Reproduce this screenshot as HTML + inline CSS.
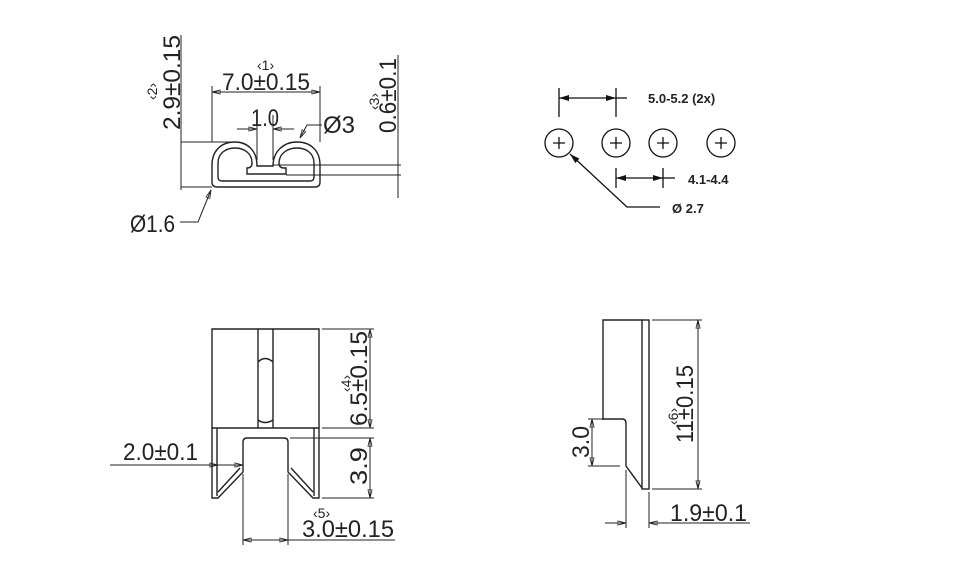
<!DOCTYPE html>
<html><head><meta charset="utf-8"><style>
html,body{margin:0;padding:0;background:#fff;}
svg{display:block;}
text{font-family:"Liberation Sans",sans-serif;fill:#222;}
.d{font-size:24px;}
.s{font-size:14px;}
.b{font-size:13px;font-weight:bold;}
</style></head><body>
<svg width="980" height="576" viewBox="0 0 980 576" xmlns="http://www.w3.org/2000/svg">
<defs>
<marker id="a" viewBox="0 0 10 6" refX="10" refY="3" markerWidth="9" markerHeight="5" orient="auto-start-reverse" markerUnits="userSpaceOnUse"><path d="M0,0.5 L10,3 L0,5.5 Z" fill="none" stroke="#222" stroke-width="1"/></marker>
<marker id="f" viewBox="0 0 10 6" refX="10" refY="3" markerWidth="11" markerHeight="6" orient="auto-start-reverse" markerUnits="userSpaceOnUse"><path d="M0,0 L10,3 L0,6 Z" fill="#111"/></marker>
</defs>
<g fill="none" stroke="#222" stroke-width="1.4">
<path d="M257,166 C257,150 247,142 235,142 C220,142 212,152 212,165 L212,182 Q212,187 217,187 L315,187 Q320,187 320,182 L320,165 C320,151 311,142 297,142 C284,142 273,151 273,166 Z"/>
<path d="M252,163 C252,154 245,148 235,148 C225,148 218,154 218,163 L218,177 Q218,181 222,181 L310,181 Q314,181 314,177 L314,163 C314,154 307,148 297,148 C287,148 279,154 279,163 Q279,168 284,168 L286,168 L286,174 L247,174 L247,168 Q252,168 252,163 Z"/>
</g>
<g fill="none" stroke="#222" stroke-width="1">
<line x1="212" y1="86" x2="212" y2="142"/><line x1="320" y1="86" x2="320" y2="142"/>
<line x1="212" y1="92" x2="320" y2="92" marker-start="url(#a)" marker-end="url(#a)"/>
<line x1="257" y1="115" x2="257" y2="160"/><line x1="273" y1="115" x2="273" y2="160"/>
<line x1="237" y1="129" x2="257" y2="129" marker-end="url(#a)"/><line x1="294" y1="129" x2="273" y2="129" marker-end="url(#a)"/>
<polyline points="322,125 307,125 300,138" marker-end="url(#a)"/>
<line x1="181" y1="35" x2="181" y2="190"/>
<line x1="181" y1="142" x2="232" y2="142"/><line x1="181" y1="187" x2="212" y2="187"/>
<line x1="398" y1="55" x2="398" y2="198"/>
<line x1="273" y1="165" x2="401" y2="165"/><line x1="286" y1="175" x2="401" y2="175"/>
<polyline points="180,222 198,222 211,190" marker-end="url(#a)"/>
</g>
<g>
<text class="d" x="222" y="90" textLength="88" lengthAdjust="spacingAndGlyphs">7.0±0.15</text>
<text class="s" x="257" y="70">‹1›</text>
<text class="d" x="251" y="126" textLength="28" lengthAdjust="spacingAndGlyphs">1.0</text>
<text class="d" x="323" y="133" textLength="32" lengthAdjust="spacingAndGlyphs">Ø3</text>
<text class="d" x="130" y="232" textLength="45" lengthAdjust="spacingAndGlyphs">Ø1.6</text>
<text class="d" transform="translate(180,130) rotate(-90)" textLength="95" lengthAdjust="spacingAndGlyphs">2.9±0.15</text>
<text class="s" transform="translate(157,100) rotate(-90)">‹2›</text>
<text class="d" transform="translate(396,133) rotate(-90)" textLength="75" lengthAdjust="spacingAndGlyphs">0.6±0.1</text>
<text class="s" transform="translate(379,110) rotate(-90)">‹3›</text>
</g>
<g fill="none" stroke="#111" stroke-width="1.3">
<circle cx="559" cy="143" r="14"/><circle cx="616" cy="143" r="14"/><circle cx="663" cy="143" r="14"/><circle cx="721" cy="143" r="14"/>
<path d="M553,143h12M559,137v12M610,143h12M616,137v12M657,143h12M663,137v12M715,143h12M721,137v12"/>
<line x1="559" y1="88" x2="559" y2="117"/><line x1="616" y1="88" x2="616" y2="117"/>
<line x1="559" y1="98" x2="616" y2="98" marker-start="url(#f)" marker-end="url(#f)"/><line x1="616" y1="98" x2="627" y2="98"/>
<line x1="616" y1="168" x2="616" y2="188"/><line x1="663" y1="168" x2="663" y2="188"/>
<line x1="616" y1="178" x2="663" y2="178" marker-start="url(#f)" marker-end="url(#f)"/><line x1="663" y1="178" x2="675" y2="178"/>
<polyline points="660,207 627,207 570,154" marker-end="url(#f)"/>
</g>
<text class="b" x="648" y="103">5.0-5.2 (2x)</text>
<text class="b" x="688" y="184">4.1-4.4</text>
<text class="b" x="672" y="213">Ø 2.7</text>
<g fill="none" stroke="#222" stroke-width="1.4">
<path d="M212,329 H319 V428 H212 Z"/>
<path d="M258,329 V428 M273,329 V428"/>
<path d="M258,362 Q265,355 273,362 M258,420 Q265,425 273,420"/>
<path d="M212,428 V498 H218 L243,472 V442 Q243,438 247,438 H284 Q288,438 288,442 V472 L313,498 H319 V428"/>
<path d="M217,428 V496 M314,428 V496 M218,492 L240,468 M313,492 L291,468"/>
</g>
<g fill="none" stroke="#222" stroke-width="1">
<line x1="322" y1="329" x2="374" y2="329"/><line x1="322" y1="428" x2="374" y2="428"/>
<line x1="370" y1="329" x2="370" y2="428" marker-start="url(#a)" marker-end="url(#a)"/>
<line x1="290" y1="438" x2="374" y2="438"/><line x1="322" y1="498" x2="374" y2="498"/>
<line x1="370" y1="438" x2="370" y2="498" marker-start="url(#a)" marker-end="url(#a)"/>
<line x1="110" y1="465" x2="218" y2="465" marker-end="url(#a)"/><line x1="218" y1="465" x2="243" y2="465" marker-end="url(#a)"/>
<line x1="243" y1="474" x2="243" y2="545"/><line x1="288" y1="474" x2="288" y2="545"/>
<line x1="243" y1="540" x2="288" y2="540" marker-start="url(#a)" marker-end="url(#a)"/><line x1="288" y1="540" x2="395" y2="540"/>
</g>
<text class="d" x="123" y="460" textLength="75" lengthAdjust="spacingAndGlyphs">2.0±0.1</text>
<text class="d" x="302" y="537" textLength="92" lengthAdjust="spacingAndGlyphs">3.0±0.15</text>
<text class="s" x="313" y="518">‹5›</text>
<text class="d" transform="translate(367,426) rotate(-90)" textLength="95" lengthAdjust="spacingAndGlyphs">6.5±0.15</text>
<text class="s" transform="translate(351,392) rotate(-90)">‹4›</text>
<text class="d" transform="translate(367,485) rotate(-90)" textLength="38" lengthAdjust="spacingAndGlyphs">3.9</text>
<g fill="none" stroke="#222" stroke-width="1.4">
<path d="M603,420 V320 H642"/>
<rect x="642" y="320" width="7" height="169"/>
<path d="M603,419 H622 Q626,419 626,423 V466 L642,488"/>
</g>
<g fill="none" stroke="#222" stroke-width="1">
<line x1="652" y1="320" x2="702" y2="320"/><line x1="652" y1="489" x2="702" y2="489"/>
<line x1="698" y1="320" x2="698" y2="489" marker-start="url(#a)" marker-end="url(#a)"/>
<line x1="588" y1="419" x2="603" y2="419"/><line x1="588" y1="466" x2="620" y2="466"/>
<line x1="592" y1="419" x2="592" y2="466" marker-start="url(#a)" marker-end="url(#a)"/>
<line x1="626" y1="470" x2="626" y2="528"/><line x1="649" y1="492" x2="649" y2="528"/>
<line x1="605" y1="523" x2="626" y2="523" marker-end="url(#a)"/><line x1="750" y1="523" x2="649" y2="523" marker-end="url(#a)"/>
</g>
<text class="d" transform="translate(693,443) rotate(-90)" textLength="78" lengthAdjust="spacingAndGlyphs">11±0.15</text>
<text class="s" transform="translate(678,425) rotate(-90)">‹6›</text>
<text class="d" transform="translate(589,458) rotate(-90)" textLength="32" lengthAdjust="spacingAndGlyphs">3.0</text>
<text class="d" x="670" y="521" textLength="77" lengthAdjust="spacingAndGlyphs">1.9±0.1</text>
</svg>
</body></html>
